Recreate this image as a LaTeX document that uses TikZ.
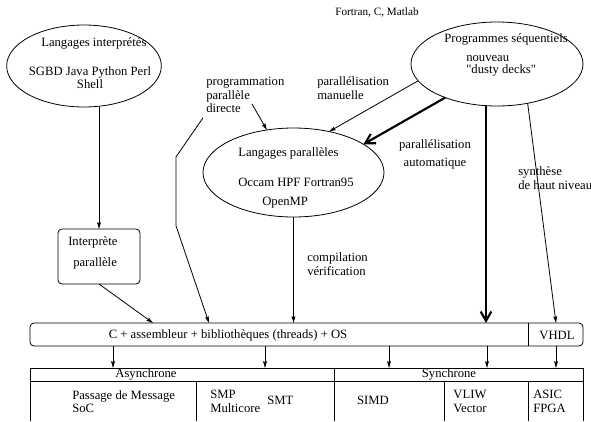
\documentclass[tikz,border=0pt]{standalone}
\usepackage{fontspec}
\setmainfont{Liberation Serif}
\usetikzlibrary{arrows.meta,shapes.geometric}

\begin{document}
\begin{tikzpicture}[x=0.75pt,y=-0.75pt,
    lbl/.style={font=\fontsize{9.5}{10}\selectfont,inner sep=0pt},
    tarr/.style={line width=0.6pt,-{Stealth[length=5pt,width=2.8pt,inset=0.6pt]}},
    karr/.style={line width=1.6pt,-{Straight Barb[length=7pt,width=8pt]}},
    bulle/.style={draw,ellipse,line width=0.6pt,inner sep=0pt,outer sep=0pt},
    boite/.style={draw,rectangle,rounded corners=3pt,line width=0.6pt,inner sep=0pt,outer sep=0pt}]
\useasboundingbox (0,0) rectangle (591,421);

      \node [bulle,minimum width=116pt,minimum height=61.5pt] (interp) at (84,66) {};
      \node [lbl,anchor=west] (interpT) at (41,43) {Langages interprétés};
      \node [lbl,align=center] (interpL) at (90,77.5) {SGBD Java Python Perl\\Shell};

      \node [boite,minimum width=61.5pt,minimum height=41.25pt] (ipar) at (99,256.5) {};
      \node [lbl,anchor=west] (iparA) at (68,242) {Interprète};
      \node [lbl,anchor=west] (iparB) at (73,263) {parallèle};

      \node [bulle,minimum width=135.75pt,minimum height=66.75pt] (lpar) at (293.5,172.5) {};
      \node [lbl,anchor=west] (lparT) at (238,153) {Langages parallèles};
      \node [lbl,anchor=west] (lparL) at (238,182) {Occam HPF Fortran95};
      \node [lbl,anchor=west] (lparM) at (262,203) {OpenMP};

      \node [bulle,minimum width=129pt,minimum height=63pt] (pseq) at (497,64) {};
      \node [lbl,anchor=west] (pseqT) at (444,39) {Programmes séquentiels};
      \node [lbl,anchor=west,align=left] (pseqL) at (466,66) {nouveau\\[-1pt]\textquotedbl dusty decks\textquotedbl};
      \node [lbl,anchor=west,font=\fontsize{8.4}{9}\selectfont] (langs) at (335,12) {Fortran, C, Matlab};

      \node [lbl,anchor=west,align=left] (pdir) at (206,95) {programmation\\parallèle\\directe};
      \node [lbl,anchor=west,align=left] (pman) at (317,88) {parallélisation\\manuelle};
      \node [lbl,align=center] (pauto) at (435,154.5) {parallélisation\\[3pt]automatique};
      \node [lbl,anchor=west,align=left] (comp) at (307,264) {compilation\\vérification};
      \node [lbl,anchor=west,align=left] (synth) at (518,178) {synthèse\\de haut niveau};

      \node [boite,minimum width=414.75pt,minimum height=17.25pt] (cbar) at (306.5,334.5) {};
      \node [lbl] (cbarT) at (228,335) {C + assembleur + bibliothèques (threads) + OS};
      \node [lbl] (vhdl) at (557,335) {VHDL};
      \coordinate (vdiv) at (528,0);
      \draw [line width=0.6pt] (vdiv |- cbar.north) -- (vdiv |- cbar.south);

      \coordinate (in1) at (153,323);
      \coordinate (in2) at (209,323);
      \coordinate (in4) at (486,323);
      \coordinate (in5) at (556,323);
      \coordinate (a1) at (252,104);

      \draw [tarr] (ipar.north |- interp.south) -- (ipar.north);
      \draw [tarr] (ipar.south) -- (in1);
      \draw [tarr] ([shift={(-3,5)}]pdir.south west) -- ++(-27,39) -- ++(0,69) -- (in2);
      \draw [tarr] (a1) -- (lpar.122);
      \draw [tarr] (pseq.192) -- (lpar.49);
      \draw [karr] (pseq.213) -- (lpar.22);
      \draw [tarr] (lpar.south) -- (lpar.south |- cbar.north);
      \draw [karr] (pseq.south -| in4) -- (in4);
      \draw [tarr] (pseq.-52) -- (in5);

      \foreach \x in {113,265,389,487,556}{
      \coordinate (d) at (\x,368);
      \draw [tarr] (d |- cbar.south) -- (d); }

      \draw [line width=0.6pt] (30,421) -- (30,368) -- (583,368) -- (583,421);
      \draw [line width=0.6pt] (30,381) -- (583,381);
      \foreach \x in {196,334,444,528}{
      \draw [line width=0.6pt] (\x,381) -- (\x,421); }
      \draw [line width=0.6pt] (334,368) -- (334,381);

      \node [lbl] (async) at (146,374.5) {Asynchrone};
      \node [lbl] (sync) at (449,374.5) {Synchrone};
      \node [lbl,anchor=west,align=left] (msg) at (72,401.5) {Passage de Message\\SoC};
      \node [lbl,anchor=west,align=left] (smp) at (210,401.5) {SMP\\Multicore};
      \node [lbl,anchor=west] (smt) at (267,400) {SMT};
      \node [lbl] (simd) at (373,400) {SIMD};
      \node [lbl,align=center] (vliw) at (470,401.5) {VLIW\\Vector};
      \node [lbl,anchor=west,align=left] (asic) at (533,401.5) {ASIC\\FPGA};
    \end{tikzpicture}
\end{document}
